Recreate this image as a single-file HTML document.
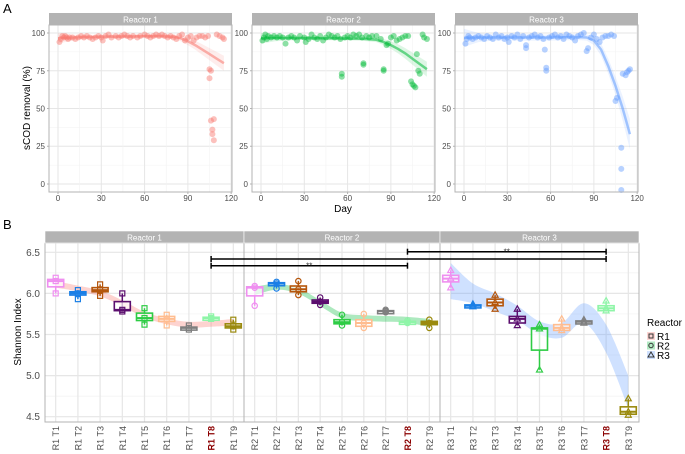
<!DOCTYPE html>
<html><head><meta charset="utf-8"><style>
body{margin:0;background:#fff;}
svg{display:block;font-family:"Liberation Sans",sans-serif;}
</style></head><body>
<svg id="c" width="685" height="454" viewBox="0 0 685 454"></svg>
<script>
// ---------- Panel A data ----------
const r1Days=[1,2,3,4,5,6,7,8,10,12,14,16,18,20,22,24,26,28,30,31,33,35,37,40,42,44,46,48,50,52,55,57,60,62,64,66,68,70,72,74,76,78,80,82,84,86,88,90,92,94,96,98,100,102,104,105,105,106,106,107,107,108,108,110,112,114,115];
const r1Vals=[94,96,98,97,98,97,96,97,97,96,97,98,97,98,97,96,97,98,97,95,98,99,97,98,97,98,99,98,97,98,97,98,99,98,97,98,99,98,99,98,97,98,97,96,98,99,95,97,98,95,97,98,98,97,98,76,70,75,42,36,33,29,43,99,98,97,96];
const r2Days=[1,2,3,4,5,7,9,11,13,15,17,19,21,23,25,27,30,31,33,35,37,39,41,43,45,47,49,51,53,55,56,56,58,60,62,64,66,68,70,71,71,73,75,77,80,83,85,85,87,88,90,92,94,96,98,100,102,104,105,106,107,108,109,110,112,113,115];
const r2Vals=[95,97,99,96,98,97,98,97,98,97,93,97,98,97,95,98,97,94,96,99,97,96,98,95,97,99,98,97,98,96,73,71,97,98,97,99,98,99,97,80,79,98,97,98,98,96,76,75,92,93,97,98,95,96,97,98,98,68,66,65,64,86,75,73,99,97,96];
const r3Days=[1,2,3,4,6,8,10,12,14,16,18,20,22,24,26,28,30,31,33,35,37,39,41,43,43,45,47,49,51,53,55,56,57,57,59,61,63,65,67,69,71,73,75,77,79,81,83,85,86,88,90,92,94,96,98,100,102,104,105,106,109,109,109,110,112,113,114,115];
const r3Vals=[93,96,98,97,96,97,98,97,96,98,97,96,99,97,98,96,97,94,98,97,99,96,98,90,92,97,98,99,97,98,96,89,77,75,97,98,99,97,98,96,99,98,97,95,98,99,100,88,90,97,99,96,94,97,98,98,99,98,55,57,24,10,-4,73,72,74,75,76];
const fitDays=[0,10,20,30,40,50,60,70,80,85,90,95,100,105,110,115];
const r1Fit=[96.5,97,97.3,97.5,97.6,97.7,97.8,97.9,97.5,96.5,94.5,92,89,86,83,80];
const r2Fit=[96.5,96.6,96.6,96.6,96.5,96.4,96.3,96.2,95.5,94,92,89.5,86.5,83,79.5,76];
const r3Fit=[96.8,97,97,97,97,97,97,97.2,97.3,97,95,89,78,65,50,33];
const yTicksA=[0,25,50,75,100];
const xTicksA=[0,30,60,90,120];
// ---------- Panel B data ----------
const cats=["T1","T2","T3","T4","T5","T6","T7","T8","T9"];
const q1B=[[6.08,5.98,6.02,5.79,5.67,5.66,5.57,5.69,5.58],[5.97,6.10,6.02,5.88,5.63,5.60,5.78,5.64,5.62],[6.14,5.845,5.85,5.64,5.31,5.55,5.65,5.79,4.53]];
const medB=[[6.15,6.00,6.04,5.80,5.70,5.69,5.58,5.70,5.60],[6.07,6.12,6.05,5.90,5.65,5.64,5.785,5.65,5.64],[6.18,5.85,5.89,5.69,5.57,5.58,5.655,5.82,4.56]];
const q3B=[[6.17,6.02,6.07,5.90,5.76,5.72,5.59,5.71,5.63],[6.08,6.13,6.09,5.92,5.68,5.68,5.79,5.66,5.66],[6.22,5.86,5.93,5.72,5.58,5.62,5.665,5.85,4.62]];
const minB=[[6.00,5.93,5.97,5.78,5.62,5.61,5.56,5.69,5.56],[5.85,6.06,5.98,5.86,5.61,5.58,5.77,5.64,5.58],[6.07,5.84,5.81,5.61,5.07,5.55,5.64,5.79,4.52]];
const maxB=[[6.19,6.04,6.11,6.00,5.82,5.74,5.61,5.72,5.68],[6.09,6.14,6.15,5.95,5.74,5.75,5.80,5.67,5.68],[6.28,5.87,5.98,5.81,5.62,5.69,5.68,5.91,4.72]];
const bandMid=[[6.11,6.06,6.0,5.88,5.74,5.66,5.62,5.63,5.65],[6.03,6.08,6.03,5.88,5.73,5.70,5.69,5.68,5.64],[6.15,6.0,5.89,5.76,5.58,5.55,5.76,5.45,4.80]];
const bandHalf=[[0.04,0.035,0.035,0.035,0.035,0.035,0.035,0.035,0.04],[0.05,0.035,0.035,0.035,0.035,0.035,0.035,0.035,0.05],[0.22,0.12,0.11,0.09,0.08,0.09,0.12,0.17,0.2]];
const yTicksB=[4.5,5.0,5.5,6.0,6.5];
const colors=["#ef8ff0","#1a7fe6","#b5560c","#5b0e6e","#2ecc45","#ffbd90","#7f7f7f","#8ff5a8","#9a8a0e"];
const reactorFill=["#F8766D","#00BA38","#619CFF"];

const svg=document.getElementById('c');
const NS='http://www.w3.org/2000/svg';
function mk(tag,attrs,parent){const e=document.createElementNS(NS,tag);for(const k in attrs)e.setAttribute(k,attrs[k]);(parent||svg).appendChild(e);return e;}
function txt(s,x,y,attrs,parent){const e=mk('text',Object.assign({x:x,y:y},attrs),parent);e.textContent=s;return e;}

// panel labels
let t=txt('A',3,13,{'font-size':13,fill:'#000'});

t=txt('B',3,229,{'font-size':13,fill:'#000'});


// ---------- Panel A ----------
const aTop=25,aBot=192,aW=183,facL=[49,252,455];
const yA=v=>aTop+(105.3-v)/(110.6)*(aBot-aTop);
const datasets=[[r1Days,r1Vals,r1Fit],[r2Days,r2Vals,r2Fit],[r3Days,r3Vals,r3Fit]];
for(let f=0;f<3;f++){
  const L=facL[f];
  const xA=d=>L+9+d*1.443;
  const g=mk('g',{});
  
  
  mk('rect',{x:L,y:aTop,width:aW,height:aBot-aTop,fill:'#fff'},g);
  for(let i=0;i<yTicksA.length;i++){const v=yTicksA[i];
    if(i<yTicksA.length-1) mk('line',{x1:L,x2:L+aW,y1:yA(v+12.5),y2:yA(v+12.5),stroke:'#f2f2f2','stroke-width':0.6},g);
    mk('line',{x1:L,x2:L+aW,y1:yA(v),y2:yA(v),stroke:'#e6e6e6','stroke-width':1},g);}
  for(let i=0;i<xTicksA.length;i++){const d=xTicksA[i];
    if(i<xTicksA.length-1) mk('line',{x1:xA(d+15),x2:xA(d+15),y1:aTop,y2:aBot,stroke:'#f2f2f2','stroke-width':0.6},g);
    mk('line',{x1:xA(d),x2:xA(d),y1:aTop,y2:aBot,stroke:'#e6e6e6','stroke-width':1},g);}
  const [ds,vs,fit]=datasets[f];
  // ribbon
  const spread=f===2?[6,3,2,2,2,2,2,2,2,2,3,4,5,6,8,10]:[3.5,2,1.5,1.2,1.2,1.2,1.2,1.3,1.5,2,2.5,3,3.5,4,4.5,5];
  let up='',lo='';
  for(let i=0;i<fitDays.length;i++){up+=(i?'L':'M')+xA(fitDays[i]).toFixed(1)+','+yA(fit[i]+spread[i]).toFixed(1);}
  for(let i=fitDays.length-1;i>=0;i--){lo+='L'+xA(fitDays[i]).toFixed(1)+','+yA(fit[i]-spread[i]).toFixed(1);}
  const rib=mk('path',{d:up+lo+'Z',fill:reactorFill[f],'fill-opacity':0.13},g);
  
  for(let i=0;i<ds.length;i++){
    const c=mk('circle',{cx:xA(ds[i]),cy:yA(vs[i]),r:3,fill:reactorFill[f],'fill-opacity':0.45},g);
    
  }
  let p='';for(let i=0;i<fitDays.length;i++)p+=(i?'L':'M')+xA(fitDays[i]).toFixed(1)+','+yA(fit[i]).toFixed(1);
  const ln=mk('path',{d:p,fill:'none',stroke:reactorFill[f],'stroke-opacity':0.55,'stroke-width':2.5},g);
  
  mk('rect',{x:L,y:aTop,width:aW,height:aBot-aTop,fill:'none',stroke:'#b3b3b3','stroke-width':1},g);
  const st=mk('rect',{x:L,y:13,width:aW,height:12,fill:'#b3b3b3'},g);
  
  txt('Reactor '+(f+1),L+aW/2,22.5,{'font-size':8,fill:'#fff','text-anchor':'middle'},g);
  for(const v of yTicksA){txt(String(v),L-4,yA(v)+3,{'font-size':8,fill:'#4d4d4d','text-anchor':'end'},g);
    mk('line',{x1:L-2,x2:L,y1:yA(v),y2:yA(v),stroke:'#b3b3b3'},g);}
  for(const d of xTicksA){txt(String(d),xA(d),201,{'font-size':8,fill:'#4d4d4d','text-anchor':'middle'},g);
    mk('line',{x1:xA(d),x2:xA(d),y1:aBot,y2:aBot+2,stroke:'#b3b3b3'},g);}
}
t=txt('Day',343,212,{'font-size':10,fill:'#000','text-anchor':'middle'});

t=txt('sCOD removal (%)',0,0,{'font-size':10,fill:'#000','text-anchor':'middle',transform:'translate(30,108) rotate(-90)'});


// ---------- Panel B ----------
const bTop=243,bBot=422,bFac=[45,244,440],bW=[199,196,199];
const yB=v=>252.3+(6.5-v)*164.4/2;
const xB=(f,i)=>bFac[f]+10.7+i*(bW[f]-21.4)/8;
for(let f=0;f<3;f++){
  const L=bFac[f],W=bW[f];
  const g=mk('g',{});
  
  
  for(let i=0;i<yTicksB.length;i++){const v=yTicksB[i];
    if(i<yTicksB.length-1) mk('line',{x1:L,x2:L+W,y1:yB(v+0.25),y2:yB(v+0.25),stroke:'#f2f2f2','stroke-width':0.7},g);
    mk('line',{x1:L,x2:L+W,y1:yB(v),y2:yB(v),stroke:'#e6e6e6','stroke-width':1.2},g);}
  for(let i=0;i<9;i++) mk('line',{x1:xB(f,i),x2:xB(f,i),y1:bTop,y2:bBot,stroke:'#e6e6e6','stroke-width':1.2},g);
  // ribbon (Catmull-Rom)
  const pu=[],pl=[];
  for(let i=0;i<9;i++){pu.push([xB(f,i),yB(bandMid[f][i]+bandHalf[f][i])]);pl.push([xB(f,i),yB(bandMid[f][i]-bandHalf[f][i])]);}
  function cr(pts,start){let d=start?'M'+pts[0][0]+','+pts[0][1]:'L'+pts[0][0]+','+pts[0][1];
    for(let i=0;i<pts.length-1;i++){const p0=pts[Math.max(i-1,0)],p1=pts[i],p2=pts[i+1],p3=pts[Math.min(i+2,pts.length-1)];
      d+='C'+(p1[0]+(p2[0]-p0[0])/6)+','+(p1[1]+(p2[1]-p0[1])/6)+' '+(p2[0]-(p3[0]-p1[0])/6)+','+(p2[1]-(p3[1]-p1[1])/6)+' '+p2[0]+','+p2[1];}
    return d;}
  const rb=mk('path',{d:cr(pu,true)+cr(pl.slice().reverse(),false)+'Z',fill:reactorFill[f],'fill-opacity':f===2?0.3:0.32},g);
  
  for(let i=0;i<9;i++){
    const x=xB(f,i),c=colors[i];
    const bg=mk('g',{},g);
    
    
    mk('line',{x1:x,x2:x,y1:yB(maxB[f][i]),y2:yB(minB[f][i]),stroke:c,'stroke-width':1.5},bg);
    const h=Math.max(yB(q1B[f][i])-yB(q3B[f][i]),3);
    mk('rect',{x:x-8,y:yB(q3B[f][i]),width:16,height:h,fill:'#fff','fill-opacity':0.7,stroke:c,'stroke-width':1.6},bg);
    mk('line',{x1:x-8,x2:x+8,y1:yB(medB[f][i]),y2:yB(medB[f][i]),stroke:c,'stroke-width':2},bg);
    for(const v of [minB[f][i],maxB[f][i],medB[f][i]]){
      const y=yB(v);
      if(f===0) mk('rect',{x:x-2.5,y:y-2.5,width:5,height:5,fill:'none',stroke:c,'stroke-width':1.2},bg);
      else if(f===1) mk('circle',{cx:x,cy:y,r:2.7,fill:'none',stroke:c,'stroke-width':1.2},bg);
      else mk('path',{d:'M'+x+','+(y-3.2)+'L'+(x+3)+','+(y+2.2)+'L'+(x-3)+','+(y+2.2)+'Z',fill:'none',stroke:c,'stroke-width':1.2},bg);
    }
  }
  mk('rect',{x:L,y:bTop,width:W,height:bBot-bTop,fill:'none',stroke:'#b3b3b3','stroke-width':1},g);
  const st=mk('rect',{x:L,y:231,width:W,height:12,fill:'#b3b3b3',stroke:'#fff','stroke-width':0.6},g);
  
  txt('Reactor '+(f+1),L+W/2,240.5,{'font-size':8,fill:'#fff','text-anchor':'middle'},g);
  for(let i=0;i<9;i++){
    const bold=i===7;
    const lab=txt('R'+(f+1)+' '+cats[i],0,0,{'font-size':9,fill:bold?'#8b0000':'#4d4d4d','font-weight':bold?'bold':'normal','text-anchor':'end',transform:'translate('+(xB(f,i)+3.5)+',426) rotate(-90)'},g);
    
  }
}
for(const v of yTicksB){
  const tl=txt(v.toFixed(1),40,yB(v)+3.5,{'font-size':10,fill:'#4d4d4d','text-anchor':'end'});
  
}
t=txt('Shannon Index',0,0,{'font-size':10,fill:'#000','text-anchor':'middle',transform:'translate(21,332) rotate(-90)'});


// significance brackets
const sig=[[0,7,1,7,265.7,'**'],[0,7,2,7,259,''],[1,7,2,7,251.7,'**']];
for(const s of sig){
  const x1=xB(s[0],s[1]),x2=xB(s[2],s[3]),y=s[4];
  const g=mk('g',{});
  
  mk('line',{x1:x1,x2:x2,y1:y,y2:y,stroke:'#000','stroke-width':1.5},g);
  mk('line',{x1:x1,x2:x1,y1:y-3,y2:y+3,stroke:'#000','stroke-width':1.5},g);
  mk('line',{x1:x2,x2:x2,y1:y-3,y2:y+3,stroke:'#000','stroke-width':1.5},g);
  if(s[5]) txt(s[5],(x1+x2)/2,y+3,{'font-size':8,fill:'#333','text-anchor':'middle'},g);
}

// legend
const lg=mk('g',{});

txt('Reactor',647,326,{'font-size':10,fill:'#000'},lg);
const shapesL=['R1','R2','R3'];
for(let i=0;i<3;i++){
  const y=336+i*9.5;
  const e=mk('g',{},lg);
  
  
  mk('rect',{x:647,y:y-4,width:8,height:8,fill:reactorFill[i],'fill-opacity':0.3},e);
  if(i===0) mk('rect',{x:649,y:y-2,width:4,height:4,fill:'none',stroke:'#333','stroke-width':1},e);
  else if(i===1) mk('circle',{cx:651,cy:y,r:2.2,fill:'none',stroke:'#333','stroke-width':1},e);
  else mk('path',{d:'M651,'+(y-3)+'L654,'+(y+2)+'L648,'+(y+2)+'Z',fill:'none',stroke:'#333','stroke-width':1},e);
  txt(shapesL[i],657,y+4,{'font-size':10,fill:'#000'},e);
}
</script>
</body></html>
